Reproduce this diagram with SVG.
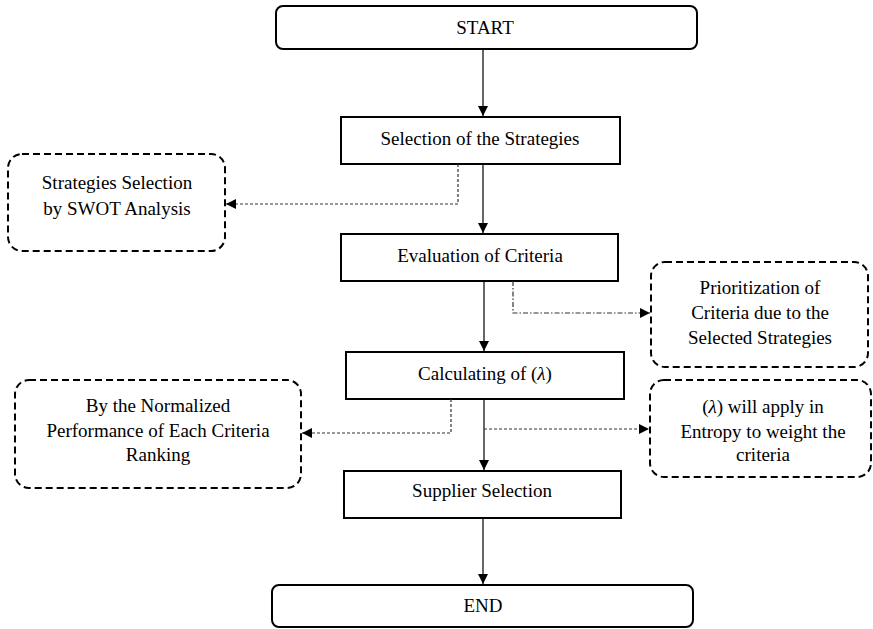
<svg xmlns="http://www.w3.org/2000/svg" width="873" height="629" viewBox="0 0 873 629">
<style>
.box{fill:#fff;stroke:#000;stroke-width:2}
.note{fill:#fff;stroke:#000;stroke-width:2;stroke-dasharray:7,4}
text{font-family:"Liberation Serif","Times New Roman",serif;font-size:19px;fill:#000;text-anchor:middle}
.main{stroke:#000;stroke-width:1.2;fill:none}
.dash{stroke:#333;stroke-width:1.2;fill:none;stroke-dasharray:3,2}
.dashdot{stroke:#333;stroke-width:1.2;fill:none;stroke-dasharray:5,2,1.5,2}
</style>
<defs>
<marker id="ah" viewBox="0 0 10 10" refX="10" refY="5" markerWidth="10" markerHeight="10" markerUnits="userSpaceOnUse" orient="auto">
<path d="M0,0 L10,5 L0,10 Z" fill="#000"/>
</marker>
</defs>
<g id="start"><rect class="box" x="276" y="6" width="421" height="43" rx="7"/><text x="485" y="34">START</text></g>
<g id="selection"><rect class="box" x="341" y="117" width="279" height="47"/><text x="480" y="145">Selection of the Strategies</text></g>
<g id="swot"><rect class="note" x="8" y="154" width="217" height="97" rx="14"/><text x="117" y="189">Strategies Selection</text><text x="117" y="215">by SWOT Analysis</text></g>
<g id="evaluation"><rect class="box" x="341" y="234" width="277" height="47"/><text x="480" y="262">Evaluation of Criteria</text></g>
<g id="prior"><rect class="note" x="651" y="262" width="217" height="105" rx="14"/><text x="760" y="294">Prioritization of</text><text x="760" y="319">Criteria due to the</text><text x="760" y="344">Selected Strategies</text></g>
<g id="calc"><rect class="box" x="346" y="352" width="278" height="47"/><text x="485" y="380">Calculating of (<tspan font-style="italic">λ</tspan>)</text></g>
<g id="normal"><rect class="note" x="15" y="380" width="286" height="108" rx="14"/><text x="158" y="412">By the Normalized</text><text x="158" y="437">Performance of Each Criteria</text><text x="158" y="461">Ranking</text></g>
<g id="entropy"><rect class="note" x="650" y="380" width="221" height="97" rx="14"/><text x="763" y="413">(<tspan font-style="italic">λ</tspan>) will apply in</text><text x="763" y="438">Entropy to weight the</text><text x="763" y="461">criteria</text></g>
<g id="supplier"><rect class="box" x="344" y="471" width="277" height="47"/><text x="482" y="497">Supplier Selection</text></g>
<g id="end"><rect class="box" x="272" y="585" width="421" height="42" rx="7"/><text x="483" y="612">END</text></g>
<g id="connectors">
<line class="main" x1="483" y1="49" x2="483" y2="116" marker-end="url(#ah)"/>
<line class="main" x1="483" y1="164" x2="483" y2="233" marker-end="url(#ah)"/>
<line class="main" x1="484" y1="281" x2="484" y2="351" marker-end="url(#ah)"/>
<line class="main" x1="484" y1="399" x2="484" y2="470" marker-end="url(#ah)"/>
<line class="main" x1="483" y1="518" x2="483" y2="584" marker-end="url(#ah)"/>
<polyline class="dash" points="458,164 458,204 226,204" marker-end="url(#ah)"/>
<polyline class="dashdot" points="513,281 513,313 650,313" marker-end="url(#ah)"/>
<polyline class="dash" points="451,399 451,433 302,433" marker-end="url(#ah)"/>
<polyline class="dash" points="484,429 649,429" marker-end="url(#ah)"/>
</g>
</svg>
